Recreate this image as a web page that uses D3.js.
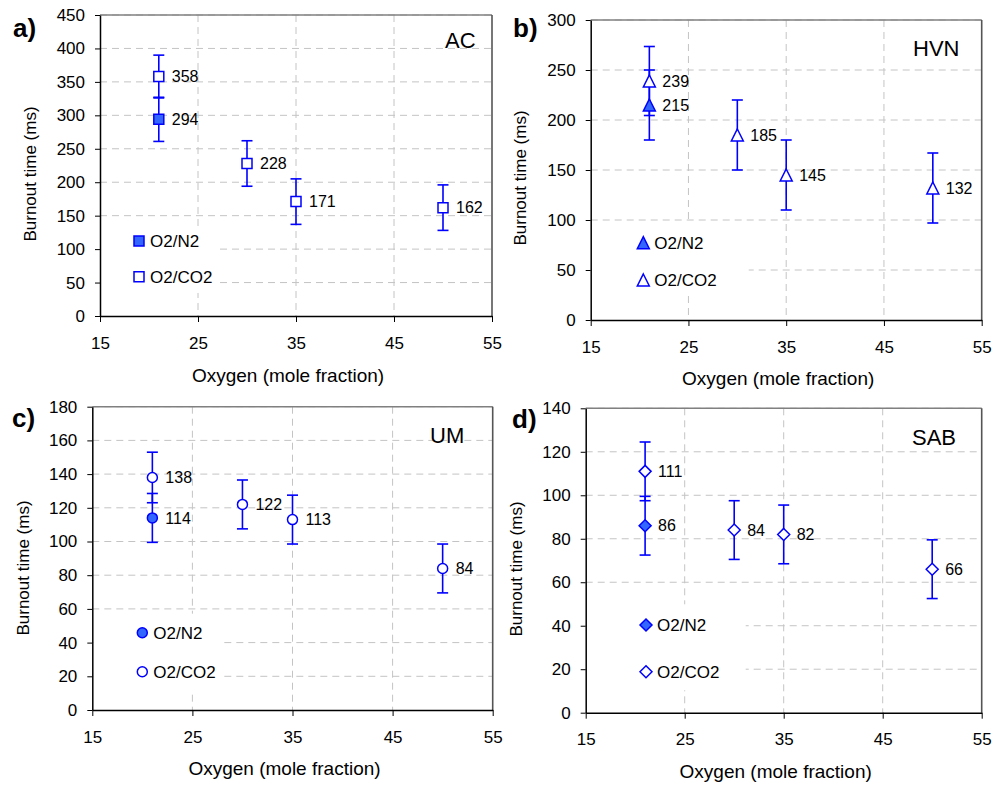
<!DOCTYPE html>
<html><head><meta charset="utf-8">
<script src="https://cdn.jsdelivr.net/npm/d3@7"></script>
<style>
html,body{margin:0;padding:0;background:#fff;}
svg{display:block;font-family:"Liberation Sans",Arial,Helvetica,sans-serif;}
</style></head><body>
<svg id="chart" width="995" height="787"></svg>
<script>
// ---------------- data ----------------
const xTicks = [15, 25, 35, 45, 55];
const xN2 = [21];
const xCO2 = [21, 30, 35, 50];
const panelTags = ["a)", "b)", "c)", "d)"];
const fuelNames = ["AC", "HVN", "UM", "SAB"];
const seriesNames = ["O2/N2", "O2/CO2"];
const xTitle = "Oxygen (mole fraction)";
const yTitle = "Burnout time (ms)";

const acYTicks  = [0, 50, 100, 150, 200, 250, 300, 350, 400, 450];
const hvnYTicks = [0, 50, 100, 150, 200, 250, 300];
const umYTicks  = [0, 20, 40, 60, 80, 100, 120, 140, 160, 180];
const sabYTicks = [0, 20, 40, 60, 80, 100, 120, 140];

const acN2 = [294],  acN2Err = [33];
const acCO2 = [358, 228, 171, 162], acCO2Err = [32, 34, 34, 34];
const hvnN2 = [215], hvnN2Err = [35];
const hvnCO2 = [239, 185, 145, 132], hvnCO2Err = [34.5, 35, 35, 35];
const umN2 = [114], umN2Err = [14.5];
const umCO2 = [138, 122, 113, 84], umCO2Err = [15, 14.5, 14.5, 14.5];
const sabN2 = [86], sabN2Err = [13.5];
const sabCO2 = [111, 84, 82, 66], sabCO2Err = [13.5, 13.5, 13.5, 13.5];

// ---------------- layout / style ----------------
const layout = [
  {L:100,   R:492,   T:15,    B:316,   shape:"square",   tagX:13,  tagY:37,  nameX:445, nameY:48,
   yTitleX:30,  yTitleY:174, xTitleY:375,  legX:39,   legRows:[226, 261.7], legBox:[1,118,213,278]},
  {L:590.7, R:981.7, T:20,    B:320,   shape:"triangle", tagX:513, tagY:37,  nameX:913, nameY:56,
   yTitleX:520, yTitleY:178, xTitleY:378,  legX:52.6, legRows:[222.7, 260], legBox:[1,158,202,276]},
  {L:92.3,  R:492.7, T:406.7, B:710,   shape:"circle",   tagX:12,  tagY:427, nameX:430, nameY:443,
   yTitleX:22.7,yTitleY:568, xTitleY:768,  legX:50,   legRows:[226, 265],   legBox:[1,130,207,285]},
  {L:585.7, R:981.7, T:408.3, B:712.7, shape:"diamond",  tagX:512, tagY:428, nameX:912, nameY:445,
   yTitleX:515.7,yTitleY:569,xTitleY:771.7,legX:60.3, legRows:[216.7, 263.4], legBox:[1,160,196,282]}
];
const BLUE = "#0000ff", FILL = "#3366ff";
const markerSize = {square:10, triangle:12, circle:10, diamond:12};

const panels = [
  {yTicks:acYTicks,  n2:acN2,  n2Err:acN2Err,  co2:acCO2,  co2Err:acCO2Err},
  {yTicks:hvnYTicks, n2:hvnN2, n2Err:hvnN2Err, co2:hvnCO2, co2Err:hvnCO2Err},
  {yTicks:umYTicks,  n2:umN2,  n2Err:umN2Err,  co2:umCO2,  co2Err:umCO2Err},
  {yTicks:sabYTicks, n2:sabN2, n2Err:sabN2Err, co2:sabCO2, co2Err:sabCO2Err}
];

function markerPath(shape, s) {
  const h = s / 2;
  switch (shape) {
    case "square":   return `M${-h},${-h}H${h}V${h}H${-h}Z`;
    case "triangle": return `M0,${-h}L${h},${h}L${-h},${h}Z`;
    case "circle":   return d3.symbol(d3.symbolCircle, Math.PI * h * h)();
    case "diamond":  return `M0,${-h}L${h},0L0,${h}L${-h},0Z`;
  }
}

const svg = d3.select("#chart");

panels.forEach((p, i) => {
  const lay = layout[i];
  const x = d3.scaleLinear().domain([xTicks[0], xTicks[xTicks.length - 1]]).range([lay.L, lay.R]);
  const y = d3.scaleLinear().domain([0, d3.max(p.yTicks)]).range([lay.B, lay.T]);
  const g = svg.append("g");

  // gridlines
  g.selectAll(".hg").data(p.yTicks.filter(t => t > 0)).join("line")
    .attr("x1", lay.L).attr("x2", lay.R).attr("y1", d => y(d)).attr("y2", d => y(d))
    .attr("stroke", "#c4c4c4").attr("stroke-width", 1).attr("stroke-dasharray", "7,5");
  g.selectAll(".vg").data(xTicks.slice(1, -1)).join("line")
    .attr("x1", d => x(d)).attr("x2", d => x(d)).attr("y1", lay.T).attr("y2", lay.B)
    .attr("stroke", "#c4c4c4").attr("stroke-width", 1).attr("stroke-dasharray", "7,5");

  // legend background
  g.append("rect")
    .attr("x", lay.L + lay.legBox[0]).attr("y", lay.T + lay.legBox[2])
    .attr("width", lay.legBox[1] - lay.legBox[0]).attr("height", lay.legBox[3] - lay.legBox[2])
    .attr("fill", "#fff");

  // plot border top/right
  g.append("line").attr("x1", lay.L).attr("x2", lay.R).attr("y1", lay.T).attr("y2", lay.T)
    .attr("stroke", "#808080").attr("stroke-width", 1.6);
  g.append("line").attr("x1", lay.R).attr("x2", lay.R).attr("y1", lay.T).attr("y2", lay.B)
    .attr("stroke", "#555").attr("stroke-width", 1.6);

  // axes
  const ya = g.append("g").attr("transform", `translate(${lay.L},0)`)
    .call(d3.axisLeft(y).tickValues(p.yTicks).tickSize(5).tickPadding(10).tickSizeOuter(0));
  const xa = g.append("g").attr("transform", `translate(0,${lay.B})`)
    .call(d3.axisBottom(x).tickValues(xTicks).tickSize(6).tickPadding(14.5).tickSizeOuter(0));
  [ya, xa].forEach(a => {
    a.select(".domain").attr("stroke", "#000").attr("stroke-width", 1.5);
    a.selectAll(".tick line").attr("stroke", "#000").attr("stroke-width", 1);
    a.selectAll(".tick text").attr("fill", "#000").style("font-size", "17px")
      .style("font-family", '"Liberation Sans",Arial,sans-serif');
  });

  // series data
  const n2 = xN2.map((xv, j) => ({x: xv, v: p.n2[j], e: p.n2Err[j], filled: true}));
  const co2 = xCO2.map((xv, j) => ({x: xv, v: p.co2[j], e: p.co2Err[j], filled: false}));
  const all = n2.concat(co2);
  const cap = 5.5;

  // error bars
  const eb = g.append("g").attr("stroke", BLUE).attr("stroke-width", 1.6).attr("fill", "none");
  all.forEach(d => {
    const cx = x(d.x), y1 = y(d.v + d.e), y0 = y(d.v - d.e);
    eb.append("line").attr("x1", cx).attr("x2", cx).attr("y1", y1).attr("y2", y0);
    eb.append("line").attr("x1", cx - cap).attr("x2", cx + cap).attr("y1", y1).attr("y2", y1);
    eb.append("line").attr("x1", cx - cap).attr("x2", cx + cap).attr("y1", y0).attr("y2", y0);
  });

  // markers
  const mp = markerPath(lay.shape, markerSize[lay.shape]);
  g.selectAll(".mk").data(all).join("path")
    .attr("d", mp)
    .attr("transform", d => `translate(${x(d.x)},${y(d.v)})`)
    .attr("fill", d => d.filled ? FILL : "#fff")
    .attr("stroke", BLUE).attr("stroke-width", 1.5);

  // value labels
  g.selectAll(".vl").data(all).join("text")
    .attr("x", d => x(d.x) + 13).attr("y", d => y(d.v)).attr("dy", "0.35em")
    .style("font-size", "16px").attr("fill", "#000")
    .text(d => d.v);

  // legend
  seriesNames.forEach((s, k) => {
    const cx = lay.L + lay.legX, cy = lay.T + lay.legRows[k];
    g.append("path").attr("d", mp).attr("transform", `translate(${cx},${cy})`)
      .attr("fill", k === 0 ? FILL : "#fff").attr("stroke", BLUE).attr("stroke-width", 1.5);
    g.append("text").attr("x", cx + 11).attr("y", cy).attr("dy", "0.35em")
      .style("font-size", "17px").attr("fill", "#000").text(s);
  });

  // titles
  g.append("text").attr("x", lay.tagX).attr("y", lay.tagY)
    .style("font-size", "26px").style("font-weight", "bold").attr("fill", "#000").text(panelTags[i]);
  g.append("text").attr("x", lay.nameX).attr("y", lay.nameY)
    .style("font-size", "22px").attr("fill", "#000").text(fuelNames[i]);
  g.append("text").attr("x", (lay.L + lay.R) / 2 - 8).attr("y", lay.xTitleY).attr("dy", "0.35em")
    .attr("text-anchor", "middle").style("font-size", "19px").attr("fill", "#000").text(xTitle);
  g.append("text").attr("transform", `translate(${lay.yTitleX},${lay.yTitleY}) rotate(-90)`)
    .attr("dy", "0.35em").attr("text-anchor", "middle")
    .style("font-size", "17px").attr("fill", "#000").text(yTitle);
});
</script>
</body></html>
